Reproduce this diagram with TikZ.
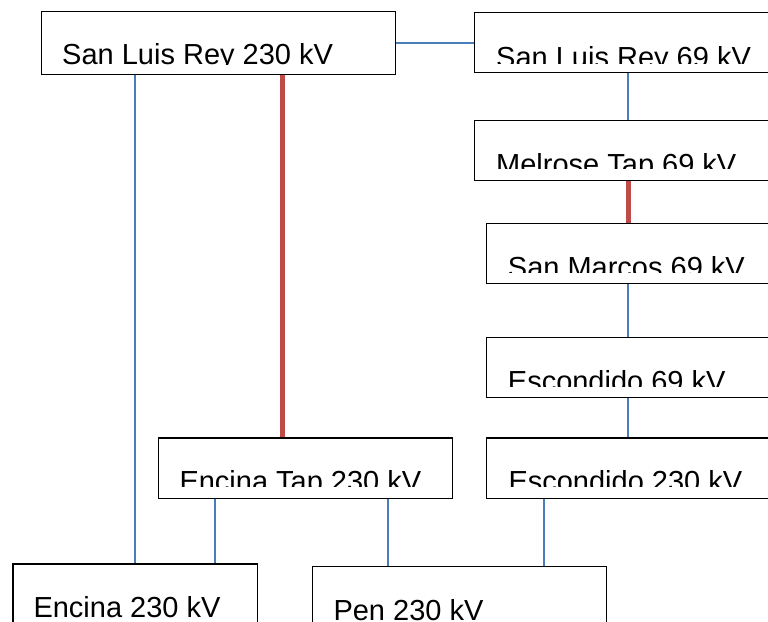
\documentclass[tikz,border=0pt]{standalone}
\usepackage{fontspec}
\setmainfont{Liberation Sans}
\usepackage{tikz}
\usetikzlibrary{positioning}

\definecolor{lineblue}{HTML}{4A7EBB}
\definecolor{linered}{HTML}{BE4B48}

\tikzset{
    bus/.style={draw=black, line width=1.2pt, fill=white, rectangle,
        anchor=north west, inner sep=0pt, minimum height=60pt},
    tie/.style={draw=lineblue, line width=1.5pt},
    heavytie/.style={draw=linered, line width=5pt},
    buslabel/.style={anchor=base west, inner sep=0pt,
        font=\fontsize{29}{34}\selectfont}
}

% label of a bus box, cut off along a line like the original
\newcommand{\busname}[5]{%
    \begin{scope}
        \clip (#1.north west) rectangle (#1.east |- 0,#4);
        \node[buslabel] (#1-name) at (#2,#3) {#5};
    \end{scope}}

\begin{document}
\begin{tikzpicture}[x=1pt, y=-1pt]

	\useasboundingbox (0,0) rectangle (768,621);
	\clip (0,0) rectangle (768,621);
	
	% bus boxes
	\node[bus, minimum width=354pt, minimum height=63pt] (slr230) at (41,11) {};
	\node[bus, minimum width=330pt] (slr69) at (474,12) {};
	\node[bus, minimum width=330pt] (melrose) at (474,120) {};
	\node[bus, minimum width=320pt] (sanmarcos) at (486,223) {};
	\node[bus, minimum width=320pt] (esc69) at (486,337) {};
	\node[bus, minimum width=320pt, minimum height=60.5pt] (esc230) at (486,437.3) {};
	\node[bus, minimum width=294.3pt, minimum height=60.5pt] (encinatap) at (157.7,437.3) {};
	\node[bus, minimum width=244.4pt, minimum height=70pt] (encina) at (12.3,563.3) {};
	\node[bus, minimum width=293.7pt, minimum height=70pt] (pen) at (312,565.7) {};
	
	\busname{slr230}{62}{64.3}{64.4}{San Luis Rey 230 kV}
	\busname{slr69}{496}{67.7}{63}{San Luis Rey 69 kV}
	\busname{melrose}{496}{174.3}{168}{Melrose Tap 69 kV}
	\busname{sanmarcos}{507.7}{277.7}{272.7}{San Marcos 69 kV}
	\busname{esc69}{507.7}{391.7}{386.7}{Escondido 69 kV}
	\busname{esc230}{508.3}{491.7}{486.7}{Escondido 230 kV}
	\busname{encinatap}{179.3}{491}{486.7}{Encina Tap 230 kV}
	\busname{encina}{33.3}{617.7}{621}{Encina 230 kV}
	\busname{pen}{333.3}{620}{621}{Pen 230 kV}
	
	% ties
	\draw[tie] (slr230.east) -- (slr230.east -| slr69.west);
	\draw[tie] (628,0 |- slr69.south) -- (628,0 |- melrose.north);
	\draw[heavytie] (628,0 |- melrose.south) -- (628,0 |- sanmarcos.north);
	\draw[tie] (628,0 |- sanmarcos.south) -- (628,0 |- esc69.north);
	\draw[tie] (628,0 |- esc69.south) -- (628,0 |- esc230.north);
	\draw[tie] (135,0 |- slr230.south) -- (135,0 |- encina.north);
	\draw[heavytie] (282.3,0 |- slr230.south) -- (282.3,0 |- encinatap.north);
	\draw[tie] (215,0 |- encinatap.south) -- (215,0 |- encina.north);
	\draw[tie] (388,0 |- encinatap.south) -- (388,0 |- pen.north);
	\draw[tie] (544,0 |- esc230.south) -- (544,0 |- pen.north);
	
\end{tikzpicture}
\end{document}
